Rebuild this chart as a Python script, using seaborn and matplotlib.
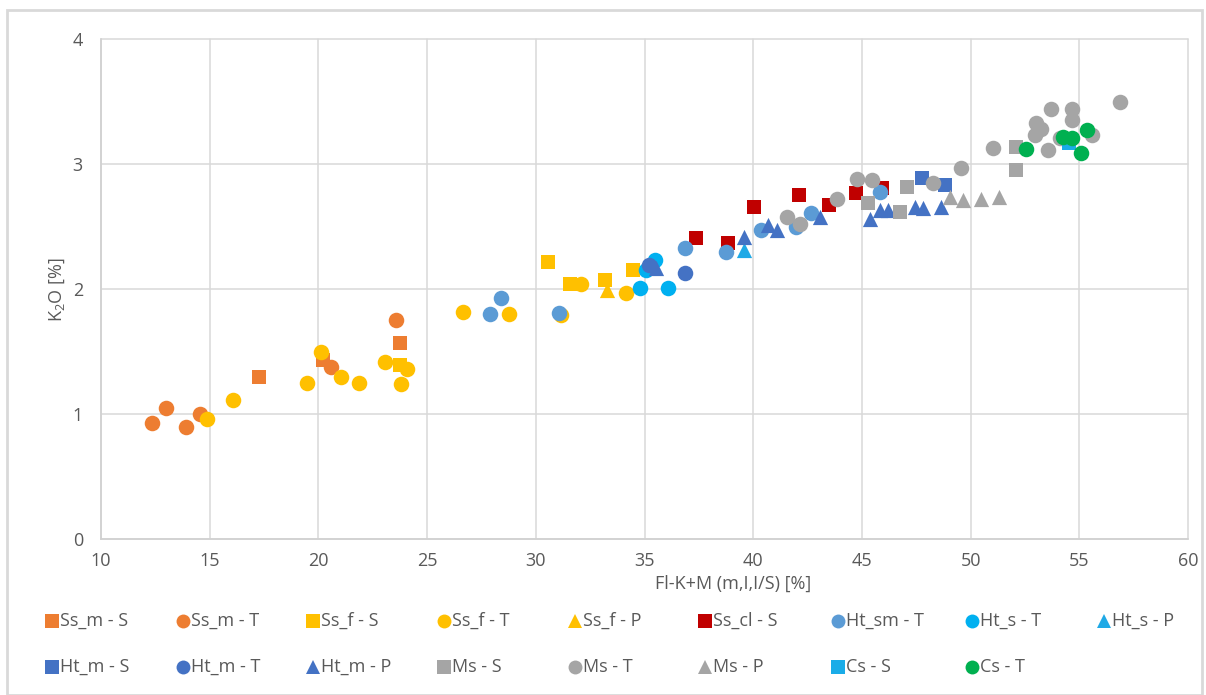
import matplotlib
matplotlib.use("Agg")
import matplotlib.pyplot as plt
from matplotlib.lines import Line2D
from matplotlib.patches import Rectangle
import seaborn as sns
import pandas as pd

# ---- data: (Fl-K+M, K2O) pairs per group ----
ss_m_s_x = [17.28, 20.22, 23.75]
ss_m_s_y = [1.30, 1.43, 1.57]
ss_m_t_x = [12.36, 12.97, 13.89, 14.55, 20.57, 23.56]
ss_m_t_y = [0.93, 1.05, 0.90, 1.00, 1.38, 1.75]
ss_f_s_x = [23.75, 30.57, 31.56, 33.17, 34.47]
ss_f_s_y = [1.39, 2.22, 2.04, 2.07, 2.15]
ss_f_t_x = [14.89, 16.05, 19.49, 20.14, 21.06, 21.86, 23.06, 23.78, 24.08,
            26.66, 28.76, 31.18, 32.10, 34.17]
ss_f_t_y = [0.96, 1.11, 1.25, 1.50, 1.30, 1.25, 1.42, 1.24, 1.36,
            1.82, 1.80, 1.79, 2.04, 1.97]
ss_f_p_x = [33.28]
ss_f_p_y = [1.99]
ss_cl_s_x = [37.38, 38.85, 40.03, 42.09, 43.49, 44.74, 45.93]
ss_cl_s_y = [2.41, 2.37, 2.66, 2.75, 2.67, 2.77, 2.81]
ht_sm_t_x = [27.89, 28.38, 31.07, 36.88, 38.76, 40.37, 41.95, 42.67, 45.82]
ht_sm_t_y = [1.80, 1.93, 1.81, 2.33, 2.30, 2.47, 2.50, 2.61, 2.78]
ht_s_t_x = [34.78, 35.09, 35.50, 36.08]
ht_s_t_y = [2.01, 2.15, 2.23, 2.01]
ht_s_p_x = [39.56]
ht_s_p_y = [2.31]
ht_m_s_x = [47.78, 48.80]
ht_m_s_y = [2.89, 2.83]
ht_m_t_x = [35.21, 36.88]
ht_m_t_y = [2.19, 2.13]
ht_m_p_x = [35.55, 39.56, 40.68, 41.09, 43.05, 45.35, 45.82, 46.20, 47.43, 47.81, 48.65]
ht_m_p_y = [2.17, 2.42, 2.51, 2.47, 2.58, 2.56, 2.63, 2.63, 2.66, 2.65, 2.66]
ms_s_x = [45.28, 46.74, 47.07, 52.07, 52.07]
ms_s_y = [2.69, 2.62, 2.82, 3.14, 2.95]
ms_t_x = [41.56, 42.17, 43.85, 44.77, 45.48, 48.27, 49.57, 51.05, 52.94, 53.02,
          53.25, 53.68, 53.56, 54.68, 54.68, 54.09, 55.59, 56.85]
ms_t_y = [2.58, 2.52, 2.72, 2.88, 2.87, 2.85, 2.97, 3.13, 3.23, 3.33,
          3.28, 3.44, 3.11, 3.44, 3.35, 3.21, 3.23, 3.50]
ms_p_x = [49.07, 49.66, 50.46, 51.30]
ms_p_y = [2.74, 2.71, 2.72, 2.74]
cs_s_x = [54.52]
cs_s_y = [3.17]
cs_t_x = [52.56, 54.24, 54.68, 55.35, 55.06]
cs_t_y = [3.12, 3.22, 3.21, 3.27, 3.09]

x_ticks = [10, 15, 20, 25, 30, 35, 40, 45, 50, 55, 60]
y_ticks = [0, 1, 2, 3, 4]

# group name, x, y, marker, colour
groups = [
    ("Ss_m - S", ss_m_s_x, ss_m_s_y, "s", "#ED7D31"),
    ("Ss_m - T", ss_m_t_x, ss_m_t_y, "o", "#ED7D31"),
    ("Ss_f - S", ss_f_s_x, ss_f_s_y, "s", "#FFC000"),
    ("Ss_f - T", ss_f_t_x, ss_f_t_y, "o", "#FFC000"),
    ("Ss_f - P", ss_f_p_x, ss_f_p_y, "^", "#FFC000"),
    ("Ss_cl - S", ss_cl_s_x, ss_cl_s_y, "s", "#C00000"),
    ("Ht_sm - T", ht_sm_t_x, ht_sm_t_y, "o", "#5B9BD5"),
    ("Ht_s - T", ht_s_t_x, ht_s_t_y, "o", "#00B0F0"),
    ("Ht_s - P", ht_s_p_x, ht_s_p_y, "^", "#1FA9E6"),
    ("Ht_m - S", ht_m_s_x, ht_m_s_y, "s", "#4472C4"),
    ("Ht_m - T", ht_m_t_x, ht_m_t_y, "o", "#4472C4"),
    ("Ht_m - P", ht_m_p_x, ht_m_p_y, "^", "#4472C4"),
    ("Ms - S", ms_s_x, ms_s_y, "s", "#A5A5A5"),
    ("Ms - T", ms_t_x, ms_t_y, "o", "#A5A5A5"),
    ("Ms - P", ms_p_x, ms_p_y, "^", "#A5A5A5"),
    ("Cs - S", cs_s_x, cs_s_y, "s", "#1AACE8"),
    ("Cs - T", cs_t_x, cs_t_y, "o", "#00B050"),
]

sns.set_theme(style="white")
plt.rcParams["font.family"] = ["Open Sans", "DejaVu Sans"]
plt.rcParams["mathtext.default"] = "regular"

W, H = 1206, 695
fig = plt.figure(figsize=(W / 100, H / 100), dpi=100)
ax = fig.add_axes([101 / W, 1 - 539 / H, 1087 / W, 500 / H])

marker_size = {"o": 125, "s": 105, "^": 120}
for name, xs, ys, mk, col in groups:
    df = pd.DataFrame({"x": xs, "y": ys})
    sns.scatterplot(data=df, x="x", y="y", marker=mk, color=col,
                    s=marker_size[mk], linewidth=0, ax=ax, legend=False,
                    zorder=3)

ax.set_xlim(10, 60)
ax.set_ylim(0, 4)
ax.set_xticks(x_ticks)
ax.set_yticks(y_ticks)
ax.grid(True, color="#D9D9D9", linewidth=1.1)
for gl in ax.get_xgridlines() + ax.get_ygridlines():
    gl.set_clip_on(False)
ax.set_axisbelow(True)
for side in ["top", "right"]:
    ax.spines[side].set_visible(False)
for side in ["left", "bottom"]:
    ax.spines[side].set_color("#D0D0D0")
    ax.spines[side].set_linewidth(1.1)

tick_col = "#595959"
fs = 13
ax.tick_params(axis="both", length=0, labelsize=fs, labelcolor=tick_col)
ax.tick_params(axis="y", pad=13)
ax.tick_params(axis="x", pad=9)

ax.set_xlabel("Fl-K+M (m,I,I/S) [%]", fontsize=fs, color=tick_col)
ax.xaxis.set_label_coords((733 - 101) / 1087, -(584 - 539) / 500)
ax.xaxis.label.set_va("center")
ax.set_ylabel("K$_2$O [%]", fontsize=fs, color=tick_col)
ax.yaxis.set_label_coords((57 - 101) / 1087, (539 - 290) / 500)
ax.yaxis.label.set_va("center")

# legend laid out in two rows with equal column spacing
col_px = [52, 183, 313, 444, 575, 705, 838, 972, 1104]
row_px = [621, 667]
leg_size = {"o": 10, "s": 9.5, "^": 10.5}
for i, (name, xs, ys, mk, col) in enumerate(groups):
    r, c = divmod(i, 9)
    fx = col_px[c] / W
    fy = 1 - row_px[r] / H
    fig.add_artist(Line2D([fx], [fy], marker=mk, color=col, markersize=leg_size[mk],
                          markeredgewidth=0, linestyle="none",
                          transform=fig.transFigure))
    fig.text(fx + 8 / W, fy, name, fontsize=fs, color=tick_col,
             ha="left", va="center")

# outer chart border
fig.add_artist(Rectangle((7 / W, 0), (1202 - 7) / W, 1 - 10 / H,
                         transform=fig.transFigure, fill=False,
                         edgecolor="#D9D9D9", linewidth=2))

fig.savefig("out.png", dpi=100, facecolor="white")
